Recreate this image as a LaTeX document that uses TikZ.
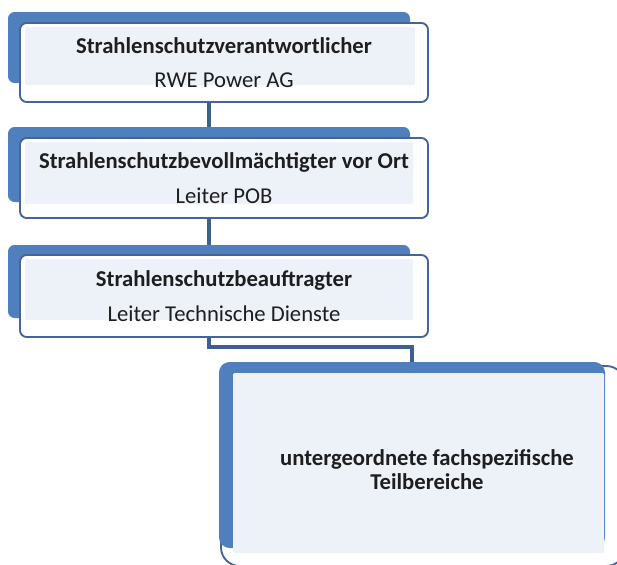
\documentclass[tikz,border=0pt]{standalone}
\usepackage{fontspec}
\setmainfont{Carlito}
\usetikzlibrary{fit,calc}
\definecolor{backblue}{HTML}{4F7FBC}
\definecolor{edgeblue}{HTML}{45659A}
\definecolor{innerfill}{HTML}{EDF1F8}
\definecolor{linkblue}{HTML}{3F5F8F}
\definecolor{txt}{HTML}{1E1E1E}
\pgfdeclarelayer{bg}
\pgfsetlayers{bg,main}
\begin{document}
\begin{tikzpicture}[x=0.75pt,y=-0.75pt,
  backbox/.style={fill=backblue, draw=none, rounded corners=5pt, inner sep=0pt},
  frontbox/.style={fill=white, draw=edgeblue, line width=1.4pt, rounded corners=5pt, inner sep=0pt},
  bigfront/.style={frontbox, rounded corners=14pt},
  innerbox/.style={fill=innerfill, draw=none, inner sep=0pt, rounded corners=1pt},
  boxtext/.style={text=txt, align=center, inner sep=0pt, font=\fontsize{17}{26}\selectfont},
  bigtext/.style={text=txt, align=center, inner sep=0pt, font=\fontsize{17}{18}\selectfont\bfseries},
  link/.style={draw=linkblue, line width=2.3pt}]
\useasboundingbox (0,0) rectangle (617,564);
% box 1
\coordinate (b1a) at (8,12);   \coordinate (b1b) at (410,83);
\coordinate (f1a) at (20,23);  \coordinate (f1b) at (428,102);
\coordinate (i1a) at (25,27);  \coordinate (i1b) at (415,85);
\node[backbox, fit=(b1a)(b1b)] (b1) {};
\node[frontbox, fit=(f1a)(f1b)] (f1) {};
\node[innerbox, fit=(i1a)(i1b)] (i1) {};
\node[boxtext] (t1) at (f1.center) {\textbf{Strahlenschutzverantwortlicher}\\RWE Power AG};
% box 2
\coordinate (b2a) at (8,127);  \coordinate (b2b) at (410,202);
\coordinate (f2a) at (20,138); \coordinate (f2b) at (428,218);
\coordinate (i2a) at (25,142); \coordinate (i2b) at (413,204);
\node[backbox, fit=(b2a)(b2b)] (b2) {};
\node[frontbox, fit=(f2a)(f2b)] (f2) {};
\node[innerbox, fit=(i2a)(i2b)] (i2) {};
\node[boxtext] (t2) at (f2.center) {\textbf{Strahlenschutzbevollmächtigter vor Ort}\\Leiter POB};
% box 3
\coordinate (b3a) at (8,245);  \coordinate (b3b) at (410,318);
\coordinate (f3a) at (20,255); \coordinate (f3b) at (428,337);
\coordinate (i3a) at (25,259); \coordinate (i3b) at (413,320);
\node[backbox, fit=(b3a)(b3b)] (b3) {};
\node[frontbox, fit=(f3a)(f3b)] (f3) {};
\node[innerbox, fit=(i3a)(i3b)] (i3) {};
\node[boxtext] (t3) at (f3.center) {\textbf{Strahlenschutzbeauftragter}\\Leiter Technische Dienste};
% box 4
\coordinate (f4a) at (221,366); \coordinate (f4b) at (625,566);
\coordinate (b4a) at (219,362); \coordinate (b4b) at (605,548);
\coordinate (i4a) at (233,373); \coordinate (i4b) at (604,553);
\node[bigfront, fit=(f4a)(f4b)] (f4) {};
\node[backbox, rounded corners=8pt, fit=(b4a)(b4b)] (b4) {};
\node[innerbox, fit=(i4a)(i4b)] (i4) {};
\node[bigtext] (t4) at (427,470) {untergeordnete fachspezifische\\Teilbereiche};
% connectors
\begin{pgfonlayer}{bg}
\coordinate (elbow) at (0,347);
\draw[link] (b1.center) -- (b2.center);
\draw[link] (b2.center) -- (b3.center);
\draw[link] (b3.center) -- (b3.center |- elbow) -- (b4.center |- elbow) -- (b4.center);
\end{pgfonlayer}
\end{tikzpicture}
\end{document}
